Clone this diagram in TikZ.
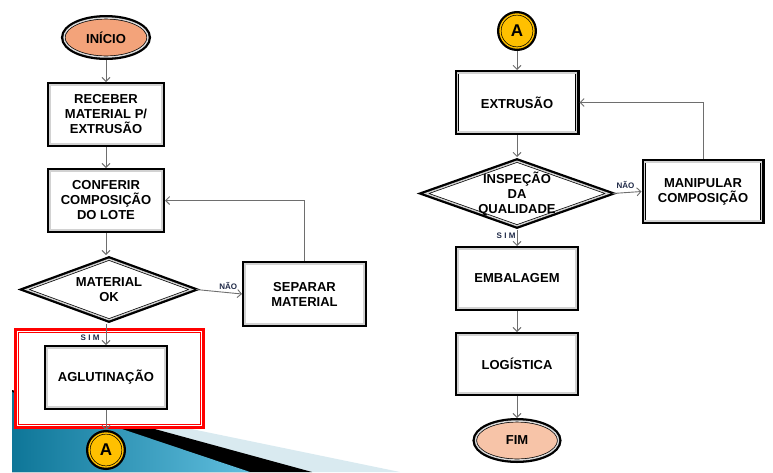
\documentclass[tikz,border=0pt]{standalone}
\usepackage{fontspec}
\setmainfont{Liberation Sans}
\usepackage{tikz}
\usetikzlibrary{positioning}
\usetikzlibrary{shapes.geometric,arrows.meta}
\definecolor{startfill}{RGB}{243,163,122}
\definecolor{endfill}{RGB}{247,196,168}
\definecolor{linkfill}{RGB}{255,192,0}
\definecolor{flowgray}{RGB}{110,110,110}
\definecolor{tagcol}{RGB}{30,40,70}
\definecolor{swdark}{RGB}{14,118,152}
\definecolor{swlight}{RGB}{96,190,222}
\definecolor{swpale}{RGB}{217,234,240}
\tikzstyle{fc_frame} = [preaction={draw=black, line width=6pt}, draw=black, line width=0.7pt, double distance=1.4pt, outer sep=3pt, inner sep=0pt, align=center, font=\fontsize{13}{15}\selectfont\bfseries]
\tikzstyle{fc_box} = [rectangle, fc_frame, double=gray!35, fill=white, minimum width=118pt, minimum height=59pt]
\tikzstyle{fc_dec} = [diamond, fc_frame, double=gray!35, fill=white]
\tikzstyle{fc_end} = [ellipse, fc_frame, double=white!85!black, minimum width=84pt, minimum height=39pt]
\tikzstyle{fc_link} = [circle, fc_frame, double=linkfill, fill=linkfill, minimum size=34pt, font=\fontsize{17}{17}\selectfont\bfseries]
\tikzstyle{fc_tag} = [font=\fontsize{8}{8}\selectfont\bfseries, text=tagcol, inner sep=1pt]
\tikzstyle{fc_line} = [->, draw=flowgray, line width=0.9pt]

\begin{document}
\begin{tikzpicture}[x=1pt, y=-1pt, >={Straight Barb[length=4pt,width=8pt]}]
\useasboundingbox (0,0) rectangle (773,472);
% slide template swoosh (only the parts outside the red frame)
\fill[swpale] (12,392) -- (14,392.4) -- (14,429) -- (191.5,429) -- (400,472) -- (12,472) -- cycle;
\fill[black] (12,390) -- (14,390.5) -- (14,429) -- (154.7,429) -- (312,472) -- (12,472) -- cycle;
\shade[left color=swdark, right color=swlight] (12,392) -- (14,392.7) -- (14,429) -- (122,429) -- (250,472) -- (12,472) -- cycle;
% red highlight
\draw[red, line width=2.6pt] (15.3,329.3) rectangle (203.7,427.7);
\draw[red, line width=0.7pt] (18.6,332.6) rectangle (200.4,424.4);

% left column
\node[fc_end, fill=startfill] (inicio) at (106,37.5) {INÍCIO};
\node[fc_box, minimum width=112pt, below=22pt of inicio] (receber) {RECEBER\\MATERIAL P/\\EXTRUSÃO};
\node[fc_box, minimum width=112pt, below=21pt of receber] (conferir) {CONFERIR\\COMPOSIÇÃO\\DO LOTE};
\node[fc_dec, minimum width=168pt, minimum height=63pt, below=22pt of conferir, xshift=3pt,
  label={[fc_tag, font=\fontsize{13}{15}\selectfont\bfseries, text=black, align=center]center:MATERIAL\\OK}] (material) {};
\node[fc_box, minimum width=119pt, minimum height=60pt, right=46pt of material, yshift=-4.5pt] (separar) {SEPARAR\\MATERIAL};
\node[fc_box, below=21pt of material, xshift=-3pt] (aglut) {AGLUTINAÇÃO};
\node[fc_link, below=20pt of aglut] (linkA) {A};

% right column
\node[fc_link] (linkB) at (517,31) {A};
\node[fc_box, minimum width=119pt, below=19pt of linkB] (extrusao) {EXTRUSÃO};
\node[fc_dec, minimum width=185pt, minimum height=67pt, below=22pt of extrusao,
  label={[fc_tag, font=\fontsize{13}{15}\selectfont\bfseries, text=black, align=center]center:INSPEÇÃO\\DA\\QUALIDADE}] (inspecao) {};
\node[fc_box, minimum width=117pt, right=29pt of inspecao, yshift=2pt] (manipular) {MANIPULAR\\COMPOSIÇÃO};
\node[fc_box, below=16pt of inspecao] (embalagem) {EMBALAGEM};
\node[fc_box, minimum height=58pt, below=21pt of embalagem] (logistica) {LOGÍSTICA};
\node[fc_end, fill=endfill, minimum width=83pt, below=22pt of logistica] (fim) {FIM};

% connectors
\draw[fc_line] (inicio) -- (receber);
\draw[fc_line] (receber) -- (conferir);
\draw[fc_line] (conferir.south) -- (conferir.south |- material.north);
\draw[fc_line] (material.east) -- node[fc_tag, above=2pt, pos=0.7] {NÃO} (separar.west);
\draw[fc_line] (separar.north) |- (conferir.east);
\draw[fc_line] (aglut.north |- material.south) -- node[fc_tag, left=5pt, pos=0.65] {\addfontfeature{LetterSpace=30}SIM} (aglut.north);
\draw[fc_line] (aglut) -- (linkA);

\draw[fc_line] (linkB) -- (extrusao);
\draw[fc_line] (extrusao) -- (inspecao);
\draw[fc_line] (inspecao.east) -- node[fc_tag, above=3pt, pos=0.45] {NÃO} (manipular.west);
\draw[fc_line] (manipular.north) |- (extrusao.east);
\draw[fc_line] (inspecao) -- node[fc_tag, left, pos=0.33] {\addfontfeature{LetterSpace=30}SIM} (embalagem);
\draw[fc_line] (embalagem) -- (logistica);
\draw[fc_line] (logistica) -- (fim);
\end{tikzpicture}
\end{document}
